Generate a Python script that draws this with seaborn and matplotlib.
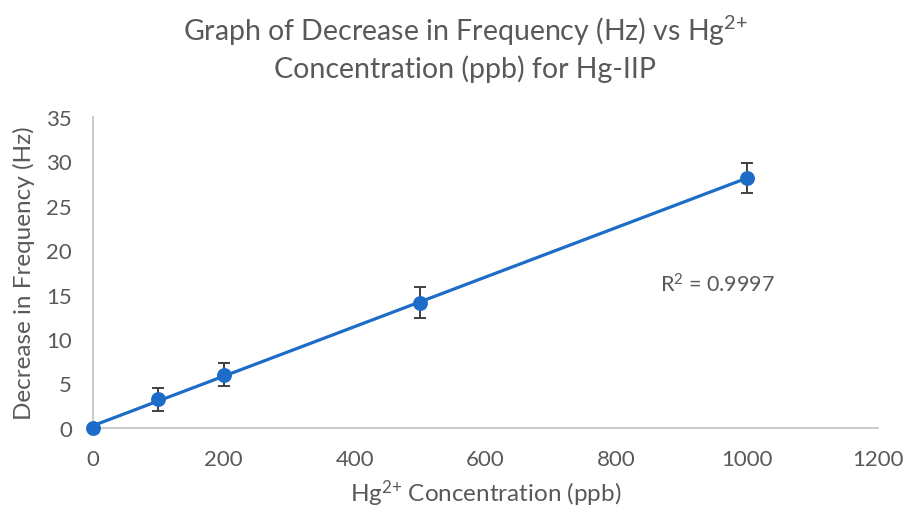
import numpy as np
import pandas as pd
import matplotlib
matplotlib.use("Agg")
import matplotlib.pyplot as plt
import seaborn as sns

# Data
concentration = [0, 100, 200, 500, 1000]
freq_decrease = [0.0, 3.2, 6.0, 14.1, 28.1]
error = [0.0, 1.3, 1.3, 1.75, 1.65]
x_ticks = [0, 200, 400, 600, 800, 1000, 1200]
y_ticks = [0, 5, 10, 15, 20, 25, 30, 35]
r2_text = r"R$^{2}$ = 0.9997"
title_text = "Graph of Decrease in Frequency (Hz) vs Hg$^{2{+}}$\nConcentration (ppb) for Hg-IIP"
x_label = "Hg$^{2{+}}$ Concentration (ppb)"
y_label = "Decrease in Frequency (Hz)"

sns.set_style("white")
plt.rcParams['font.family'] = ['Lato', 'DejaVu Sans']
plt.rcParams['mathtext.fontset'] = 'custom'
plt.rcParams['mathtext.rm'] = 'Lato'
plt.rcParams['mathtext.it'] = 'Lato'
plt.rcParams['mathtext.default'] = 'regular'

grey = "#595959"
blue = "#1c6cc8"

df = pd.DataFrame({"conc": concentration, "freq": freq_decrease, "err": error})

fig = plt.figure(figsize=(9.07, 5.10), dpi=100)
ax = fig.add_axes([0.1025, 0.159, 0.8655, 0.61])

# trendline (linear fit from data)
slope, intercept = np.polyfit(df["conc"], df["freq"], 1)
trend = pd.DataFrame({"conc": [0, 1000]})
trend["freq"] = intercept + slope * trend["conc"]
sns.lineplot(data=trend, x="conc", y="freq", ax=ax, color=blue, linewidth=2.3, zorder=2)

# error bars
mask = df["err"] > 0
ax.errorbar(df.loc[mask, "conc"], df.loc[mask, "freq"], yerr=df.loc[mask, "err"],
            fmt="none", ecolor="#404040", elinewidth=1.4, capsize=4, capthick=1.4, zorder=3)

sns.scatterplot(data=df, x="conc", y="freq", ax=ax, color=blue, s=115,
                edgecolor=blue, linewidth=0, zorder=4)

ax.set_xlim(0, 1200)
ax.set_ylim(0, 35)
ax.set_xticks(x_ticks)
ax.set_yticks(y_ticks)
ax.tick_params(axis="both", length=0, labelsize=16, labelcolor=grey, pad=15)

for s in ["top", "right"]:
    ax.spines[s].set_visible(False)
for s in ["left", "bottom"]:
    ax.spines[s].set_color("#bfbfbf")
    ax.spines[s].set_linewidth(1.2)

ax.set_xlabel(x_label, fontsize=17.5, color=grey, labelpad=6)
ax.set_ylabel(y_label, fontsize=17.5, color=grey, labelpad=8)
for c in ax.collections:
    c.set_clip_on(False)
for l in ax.lines:
    l.set_clip_on(False)

ax.text(867, 16.2, r2_text, fontsize=15.5, color=grey, va="center", ha="left")

fig.text(0.513, 0.905, title_text,
         ha="center", va="center", fontsize=20.5, color=grey, linespacing=1.3)

fig.savefig("out.png", dpi=100)
